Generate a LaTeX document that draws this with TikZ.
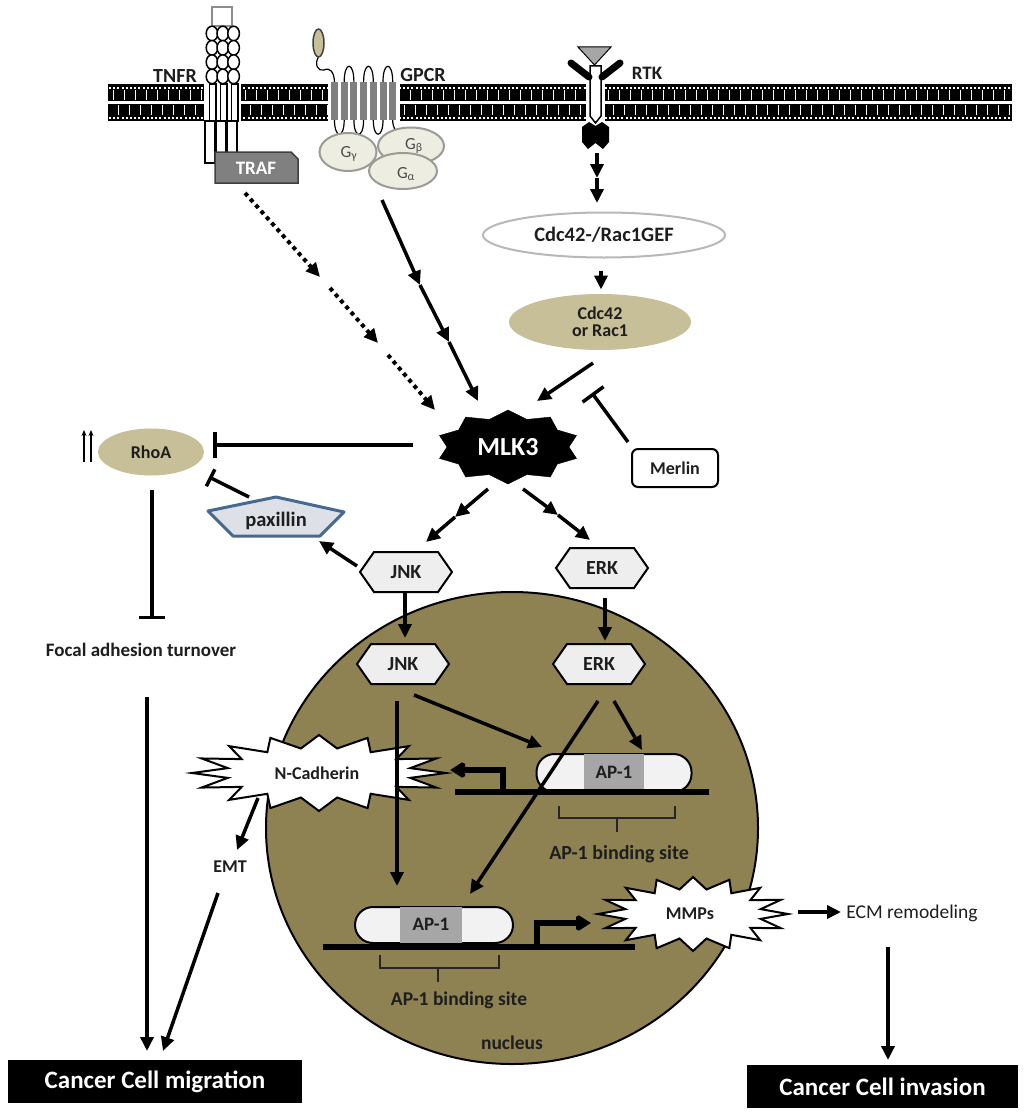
\documentclass[tikz,border=0pt]{standalone}
\usepackage{fontspec}
\setmainfont{Carlito}
\usetikzlibrary{arrows.meta,decorations.markings,shapes.geometric,shapes.symbols}
\definecolor{rhotan}{RGB}{199,191,152}
\definecolor{nucol}{RGB}{142,130,82}
\definecolor{hexfill}{RGB}{238,238,238}
\definecolor{paxfill}{RGB}{221,225,231}
\definecolor{paxedge}{RGB}{70,105,145}
\definecolor{gfill}{RGB}{238,237,225}
\definecolor{gedge}{RGB}{155,155,150}
\definecolor{txt}{RGB}{30,30,30}
\newcommand{\fsz}[1]{\fontsize{#1}{#1}\selectfont}
% #1 style, #2 cx, #3 cy, #4 spikes, #5 rx out, #6 ry out, #7 rx in, #8 ry in, #9 angle offset
\newcommand{\spiky}[9]{%
  \pgfmathtruncatemacro{\spkM}{2*#4-1}%
  \draw[#1] plot[samples at={0,1,...,\spkM}, variable=\k]
    ({#2+(mod(\k,2)==0 ? #5 : #7)*cos(#9+\k*180/#4)},{#3+(mod(\k,2)==0 ? #6 : #8)*sin(#9+\k*180/#4)}) -- cycle;}
\begin{document}
\begin{tikzpicture}[x=1pt,y=-1pt,
  lbl/.style={font=\bfseries\fsz{18}, text=txt, inner sep=1pt},
  arr/.style={line width=3.5pt, -{Triangle[length=14pt,width=13pt]}},
  dotarr/.style={line width=4pt, dash pattern=on 4pt off 4pt, -{Triangle[length=14pt,width=13pt]}},
  inhib/.style={line width=3.5pt, -{Bar[width=#1]}},
  inhib/.default=24pt,
  hexa/.style={signal, signal to=east and west, signal pointer angle=110, draw, line width=2pt,
    fill=hexfill, minimum width=92pt, minimum height=40pt, inner sep=0pt,
    font=\bfseries\fsz{20}, text=txt},
  gprot/.style={ellipse, draw=gedge, line width=2pt, fill=gfill},
  glbl/.style={font=\fsz{17}, text=black!70, inner sep=0pt},
  pill/.style={draw, line width=2pt, fill=black!5, rounded corners=18pt},
  bigbox/.style={fill=black, text=white, font=\bfseries\fsz{25}, inner sep=0pt},
  dna/.style={line width=6pt},
  promo/.style={line width=6pt, miter limit=2, -{Triangle[length=15pt,width=18pt]}},
  brk/.style={line width=2.5pt, black!85}
  ]
\useasboundingbox (0,0) rectangle (1024,1116);
\fill[white] (0,0) rectangle (1024,1116);

% ---------------- membrane ----------------
\fill[black] (108,84) rectangle (1012,121);
\draw[white, line width=2.5pt] (108,102.5) -- (1012,102.5);
\draw[white, line width=2pt, dash pattern=on 2pt off 2.2pt] (109,87.5) -- (1012,87.5);
\draw[white, line width=2pt, dash pattern=on 2pt off 2.2pt] (109,117.5) -- (1012,117.5);
\foreach \x in {113,124,...,1008} {
  \draw[white, line width=1pt] (\x,90) -- (\x,100);
  \draw[white, line width=1pt] (\x+5,105) -- (\x+5,115);
}
% gaps
\fill[white] (204,83) rectangle (241,122);
\fill[white] (328,83) rectangle (400,122);
\fill[white] (586,83) rectangle (605,122);

% ---------------- TNFR ----------------
\draw[draw=black!45, line width=1.8pt, fill=white] (212,7) rectangle (232,26);
\foreach \xx in {210,221,232} {\draw[line width=1.5pt, fill=white] (\xx-0.5,84) rectangle (\xx+6,121);}
\draw[line width=1.5pt, fill=white] (205,121) rectangle (215,163);
\draw[line width=1.5pt, fill=white] (216,121) rectangle (226,155);
\draw[line width=1.5pt, fill=white] (227,121) rectangle (237,155);
\foreach \c in {0,1,2} {\foreach \r in {0,1,2,3} {
  \draw[line width=1.5pt, fill=white] ({212+\c*10.8},{33.5+\r*14.3}) ellipse (5.8 and 7.3);}}
\fill[black!50, draw=black!75, line width=1.5pt] (215,152) -- (291,152) -- (298,159) -- (298,183) -- (215,183) -- cycle;
\node[lbl, text=white, font=\bfseries\fsz{19}] (traf) at (256,168) {TRAF};
\node[lbl, font=\bfseries\fsz{20}] (tnfr) at (175,76) {TNFR};

% ---------------- GPCR ----------------
\draw[line width=1.2pt] (318.5,57) .. controls (314,64) and (318,72) .. (324,70) .. controls (330,67) and (334,72) .. (334.5,82);
\draw[draw=black!75, line width=1.5pt, fill=rhotan] (318.5,43) ellipse (5.5 and 14);
\foreach \i in {1,3,5} {\draw[line width=1.2pt] ({334.5+\i*9.7},82) .. controls ({334.5+\i*9.7},61) and ({334.5+(\i+1)*9.7},61) .. ({334.5+(\i+1)*9.7},82);}
\foreach \i in {0,2,4} {\draw[line width=1.2pt] ({334.5+\i*9.7},120) .. controls ({334.5+\i*9.7},139) and ({334.5+(\i+1)*9.7},139) .. ({334.5+(\i+1)*9.7},120);}
\draw[line width=1.2pt] (392.7,120) .. controls (392.7,128) and (396,131) .. (398,133);
\foreach \i in {0,...,6} {\fill[gray] ({331+\i*9.7},82) rectangle ({338+\i*9.7},120);}
\node[lbl, font=\bfseries\fsz{20}] (gpcr) at (423,75) {GPCR};
\node[gprot, minimum width=57pt, minimum height=38pt] (gg) at (348,152) {};
\node[gprot, minimum width=66pt, minimum height=37pt] (gb) at (411,146) {};
\node[gprot, minimum width=68pt, minimum height=36pt] (ga) at (403,171) {};
\node[glbl] (ggl) at (349,154) {G\textsubscript{γ}};
\node[glbl] (gbl) at (414,146) {G\textsubscript{β}};
\node[glbl] (gal) at (406,174) {G\textsubscript{α}};

% ---------------- RTK ----------------
\draw[line width=1.5pt, fill=white] (590,66) -- (601,66) -- (601,116) -- (595.5,123) -- (590,116) -- cycle;
\draw[line width=7pt, line cap=round] (571,63) -- (589,77);
\draw[line width=7pt, line cap=round] (620,63) -- (602,77);
\fill[black] (582,127) -- (589,122) -- (595.5,126) -- (602,122) -- (609,127) -- (609,142) -- (603,149) -- (595.5,143) -- (588,149) -- (582,142) -- cycle;
\draw[line width=1pt, fill=black!35] (578,47) -- (611,47) -- (594.5,65) -- cycle;
\node[lbl, font=\bfseries\fsz{19}] (rtk) at (647,73) {RTK};

% ---------------- upper pathway nodes ----------------
\node[ellipse, draw=black!28, line width=2pt, fill=white, minimum width=242pt, minimum height=45pt, lbl, font=\bfseries\fsz{20.5}] (gef) at (604,235) {Cdc42-/Rac1GEF};
\node[ellipse, fill=rhotan, minimum width=182pt, minimum height=56pt, lbl, align=center] (cdc) at (600,322) {Cdc42\\[-1pt]or Rac1};
\node[ellipse, fill=rhotan, minimum width=106pt, minimum height=47pt, lbl] (rhoa) at (151,452) {RhoA};
\node[draw, line width=2pt, rounded corners=6pt, fill=white, minimum width=86pt, minimum height=38pt, lbl] (merlin) at (675,468) {Merlin};
\spiky{fill=black}{508}{447}{10}{72}{37}{61}{29}{18}
\node[lbl, text=white, font=\bfseries\fsz{26}] (mlk) at (508,447) {MLK3};
\draw[line width=3pt, paxedge, fill=paxfill, line join=round] (276,497) -- (344,512) -- (320,536) -- (233,536) -- (208,511) -- cycle;
\node[lbl, font=\bfseries\fsz{20.5}] (pax) at (276,521) {paxillin};
% double up arrows
\draw[line width=1.6pt, -{Stealth[length=6pt,width=5pt]}] (84,462) -- (84,430);
\draw[line width=1.6pt, -{Stealth[length=6pt,width=5pt]}] (91,462) -- (91,430);
\coordinate (rhoup) at (87,446);

% ---------------- nucleus ----------------
\fill[nucol, draw=black, line width=2pt] (512,828) ellipse (246 and 236);
\node[lbl, font=\bfseries\fsz{19.5}] (nuc) at (512,1043) {nucleus};

% hexagons
\node[hexa] (jnko) at (406,572) {JNK};
\node[hexa] (erko) at (602,568) {ERK};
\node[hexa] (jnki) at (403,664) {JNK};
\node[hexa] (erki) at (599,664) {ERK};

% upper AP-1 and DNA
\node[pill, minimum width=155pt, minimum height=38pt] (ap1u) at (614,773) {};
\fill[black!35] (584,754) rectangle (644,791);
\node[lbl, font=\bfseries\fsz{19}] (ap1ut) at (614,772) {AP-1};
\draw[dna] (455,792) -- (709,792);
\coordinate (pu0) at (503,795);
\coordinate (pu1) at (503,770);
\coordinate (pu2) at (450,770);
\draw[promo] (pu0) -- (pu1) -- (pu2);
\draw[brk] (559,806) -- (559,818) -- (675,818) -- (675,806);
\draw[brk] (617,818) -- (617,832);
\node[lbl, font=\bfseries\fsz{20}] (bsu) at (619,854) {AP-1 binding site};

% lower AP-1 and DNA
\node[pill, minimum width=158pt, minimum height=36pt] (ap1l) at (434,925) {};
\fill[black!35] (400,907) rectangle (462,943);
\node[lbl, font=\bfseries\fsz{19}] (ap1lt) at (431,924) {AP-1};
\draw[dna] (323,947) -- (635,947);
\coordinate (pl0) at (537,950);
\coordinate (pl1) at (537,923);
\coordinate (pl2) at (591,923);
\draw[promo] (pl0) -- (pl1) -- (pl2);
\draw[brk] (380,955) -- (380,968) -- (499,968) -- (499,955);
\draw[brk] (438,968) -- (438,982);
\node[lbl, font=\bfseries\fsz{19.5}] (bsl) at (459,1000) {AP-1 binding site};

% starbursts
\spiky{fill=white, draw=black, line width=2pt}{319}{773}{16}{127}{38}{93}{25}{0}
\node[lbl] (ncad) at (317,773) {N-Cadherin};
\spiky{fill=white, draw=black, line width=2pt}{693}{914}{16}{95}{37}{69}{25}{0}
\node[lbl] (mmp) at (690,914) {MMPs};

% ---------------- outcome labels ----------------
\node[lbl, font=\bfseries\fsz{19}] (fat) at (141,650) {Focal adhesion turnover};
\node[lbl] (emt) at (230,867) {EMT};
\node[font=\fsz{19.5}, text=txt, inner sep=1pt] (ecm) at (912,913) {ECM remodeling};
\node[bigbox, minimum width=294pt, minimum height=43pt] (mig) at (155,1081.5) {Cancer Cell migration};
\node[bigbox, minimum width=271pt, minimum height=43pt] (inv) at (882.5,1086.5) {Cancer Cell invasion};

% ---------------- connectors ----------------
% TRAF dotted
\coordinate (t0) at (245,193);
\coordinate (t1) at (320,277);
\coordinate (t2) at (330,288);
\coordinate (t3) at (378,343);
\coordinate (t4) at (388,355);
\coordinate (t5) at (435,410);
\draw[dotarr] (t0) -- (t1);
\draw[dotarr] (t2) -- (t3);
\draw[dotarr] (t4) -- (t5);
% GPCR solid
\coordinate (g0) at (382,200);
\coordinate (g1) at (420,285);
\coordinate (g2) at (449,342);
\coordinate (g3) at (478,401);
\draw[arr] (g0) -- (g1);
\draw[arr] (g1) -- (g2);
\draw[arr] (g2) -- (g3);
% RTK
\coordinate (r0) at (597,153);
\coordinate (r1) at (597,178);
\coordinate (r2) at (597,203);
\draw[arr] (r0) -- (r1);
\draw[arr] (r1) -- (r2);
\draw[arr] (gef.south) ++(-3,12) coordinate (ge0) -- ++(0,19) coordinate (ge1);
% Cdc42 -> MLK3
\coordinate (c0) at (593,363);
\coordinate (c1) at (537,401);
\draw[arr] (c0) -- (c1);
% Merlin inhibition
\coordinate (m0) at (628,442);
\coordinate (m1) at (592,393);
\draw[inhib=26pt] (m0) -- (m1);
% MLK3 -| RhoA
\coordinate (mr0) at (413,445);
\coordinate (mr1) at (213,445);
\draw[inhib=26pt] (mr0) -- (mr1);
% paxillin -| RhoA
\coordinate (p0) at (249,497);
\coordinate (p1) at (209,477);
\draw[inhib=19pt] (p0) -- (p1);
% JNK -> paxillin
\coordinate (jp0) at (357,566);
\coordinate (jp1) at (319,541);
\draw[arr] (jp0) -- (jp1);
% MLK3 -> JNK / ERK
\coordinate (mj0) at (488,489);
\coordinate (mj1) at (455,517);
\coordinate (mj2) at (426,542);
\draw[arr] (mj0) -- (mj1);
\draw[arr] (mj1) -- (mj2);
\coordinate (me0) at (523,489);
\coordinate (me1) at (558,515);
\coordinate (me2) at (590,540);
\draw[arr] (me0) -- (me1);
\draw[arr] (me1) -- (me2);
% into nucleus
\coordinate (jj0) at (405,593);
\coordinate (jj1) at (405,638);
\draw[arr] (jj0) -- (jj1);
\coordinate (ee0) at (605,598);
\coordinate (ee1) at (605,641);
\draw[arr] (ee0) -- (ee1);
% inside nucleus
\coordinate (ja0) at (397,701);
\coordinate (ja1) at (397,886);
\draw[arr] (ja0) -- (ja1);
\coordinate (jb0) at (414,695);
\coordinate (jb1) at (542,747);
\draw[arr] (jb0) -- (jb1);
\coordinate (ea0) at (598,701);
\coordinate (ea1) at (470,894);
\draw[arr] (ea0) -- (ea1);
\coordinate (eb0) at (614,701);
\coordinate (eb1) at (642,750);
\draw[arr] (eb0) -- (eb1);
% RhoA -| focal adhesion
\coordinate (rf0) at (152,490);
\coordinate (rf1) at (152,619);
\draw[inhib=26pt] (rf0) -- (rf1);
% focal -> migration
\coordinate (fm0) at (147,697);
\coordinate (fm1) at (147,1051);
\draw[arr] (fm0) -- (fm1);
% N-cad -> EMT -> migration
\coordinate (ne0) at (258,798);
\coordinate (ne1) at (237,850);
\draw[arr] (ne0) -- (ne1);
\coordinate (em0) at (218,893);
\coordinate (em1) at (163,1051);
\draw[arr] (em0) -- (em1);
% MMPs -> ECM -> invasion
\coordinate (mm0) at (798,912);
\coordinate (mm1) at (841,912);
\draw[arr] (mm0) -- (mm1);
\coordinate (ei0) at (888,947);
\coordinate (ei1) at (888,1060);
\draw[arr] (ei0) -- (ei1);
\end{tikzpicture}
\end{document}
